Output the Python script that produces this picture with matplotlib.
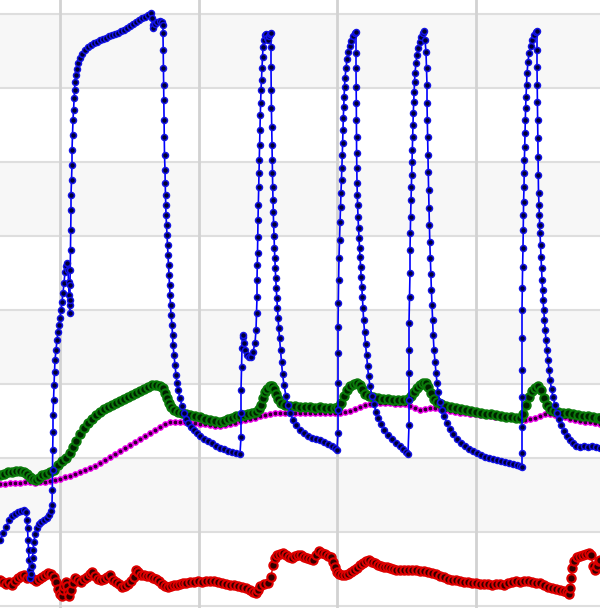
import matplotlib
matplotlib.use("Agg")
import matplotlib.pyplot as plt

# sample index (t) and signal level (v) for each trace
blue_t = [0, 3, 6, 9, 12, 15, 18, 21, 24, 26, 27, 27.5, 28, 28.5, 29, 29.5, 30, 31, 32, 32.5,
          33, 34, 35, 37, 39, 41, 44, 47, 49, 51, 52, 52.3, 52.5, 52.7, 53, 53, 53.5, 54, 54.5, 55,
          56, 57, 58, 59, 60, 61, 62, 63, 64, 65, 66, 67, 68, 68.5, 69, 69.5, 70, 70, 70, 70.2,
          70.5, 70.8, 71, 71, 71.5, 72, 72, 72.5, 73, 73.5, 74, 74.5, 75, 76, 77, 78, 80, 82, 85, 88,
          91, 94, 97, 100, 103, 106, 109, 112, 115, 118, 121, 124, 127, 130, 133, 136, 139, 142, 145, 148,
          151, 152, 152.5, 153, 155, 157, 160, 162, 163, 163, 163.2, 163.4, 163.6, 163.8, 164, 164.2, 164.5, 165,
          165.2, 165.5, 165.8, 166, 166.5, 167, 167.5, 168, 168.5, 169, 169.5, 170, 170.5, 171, 172, 172.5, 173, 174,
          175, 176, 177, 178, 180, 182, 184, 186, 188, 191, 194, 197, 200, 204, 208, 212, 216, 220, 224, 228,
          232, 236, 240, 241, 241, 241, 241.5, 242, 242.5, 243, 244, 245, 247, 249, 251, 253, 255, 256, 256.5, 257,
          257, 257.3, 257.5, 257.7, 258, 258.3, 258.6, 259, 259.3, 259.6, 260, 260.3, 260.6, 261, 261.5, 262, 262.5, 263,
          264, 265, 266, 267, 268, 269, 270, 271, 271, 271, 271.2, 271.4, 271.7, 272, 272.2, 272.4, 272.7, 273,
          273.3, 273.6, 274, 274.4, 274.8, 275.2, 275.7, 276.2, 276.8, 277.4, 278, 278.7, 279.5, 280.5, 281.5, 282.5, 284, 286,
          288, 290, 293, 296, 300, 304, 308, 312, 316, 320, 324, 328, 332, 335, 337, 338, 338, 338, 338, 338,
          338.3, 338.6, 339, 339.5, 340, 340.5, 341, 341.5, 342, 342.3, 342.6, 343, 343.3, 343.7, 344, 344.5, 345, 346, 347, 348,
          349.5, 351, 353, 355, 356, 356, 356, 356.2, 356.3, 356.4, 356.5, 356.6, 356.8, 357, 357.3, 357.6, 358, 358.5, 359, 359.5,
          360, 360.6, 361.2, 361.8, 362.4, 363, 363.6, 364.5, 365.5, 366.5, 367.5, 368.5, 370, 372, 374, 376, 378, 381, 384, 388,
          392, 396, 400, 403, 406, 408, 409, 409, 409, 409, 409, 409.5, 410, 410, 410.3, 410.6, 411, 411.3, 411.6, 412,
          412.3, 412.6, 413, 413.3, 413.7, 414, 414.5, 415, 416, 417, 418, 419.5, 421, 423, 424, 425, 426, 426.5, 427, 427,
          427.3, 427.6, 428, 428.3, 428.6, 429, 429.4, 429.8, 430.3, 430.8, 431.4, 432, 432.6, 433.2, 434, 435, 436, 437, 438, 440,
          442, 444, 447, 450, 453, 457, 461, 465, 469, 473, 477, 481, 485, 489, 493, 497, 501, 505, 509, 513,
          517, 520, 522, 522, 522, 522, 522, 522, 522, 522.3, 522.6, 523, 523.2, 523.4, 523.6, 524, 524.2, 524.4, 524.7, 525,
          525.3, 525.6, 526, 526.5, 527, 528, 529, 530.5, 532, 534, 536, 537, 537, 537, 537.2, 537.4, 537.6, 537.8, 538, 538.2,
          538.5, 539, 539.3, 539.7, 540, 540.5, 541, 541.5, 542, 542.5, 543, 543.7, 544.4, 545.2, 546, 547, 548, 549, 550, 551.5,
          553, 555, 557, 559, 561, 564, 567, 570, 573, 576, 580, 584, 588, 592, 596, 600]
blue_v = [68, 75, 81, 88, 92, 94, 96, 97, 98, 96, 88, 80, 68, 58, 48, 38, 30, 34, 42, 50,
          58, 66, 74, 80, 84, 86, 88, 90, 93, 97, 103, 118, 138, 158, 176, 193, 208, 223, 236, 248,
          258, 268, 276, 283, 290, 298, 306, 315, 325, 336, 342, 345, 338, 326, 313, 303, 295, 308, 323, 338,
          358, 378, 398, 413, 428, 443, 458, 473, 488, 498, 510, 518, 526, 533, 539, 545, 550, 554, 558, 561,
          563, 565, 566, 568, 569, 570, 572, 573, 574, 575, 577, 578, 580, 582, 584, 586, 588, 590, 591, 593,
          595, 590, 583, 580, 584, 586, 587, 586, 583, 575, 558, 540, 523, 508, 488, 471, 453, 438,
          425, 413, 403, 393, 383, 373, 363, 353, 343, 333, 323, 313, 303, 293, 283, 273, 263, 253,
          243, 233, 225, 218, 210, 202, 195, 189, 185, 181, 178, 175, 172, 169, 167, 165, 162, 160, 159, 157,
          156, 155, 154, 171, 195, 218, 241, 260, 271, 273, 265, 258, 253, 251, 251, 256, 265, 278, 295, 311,
          328, 343, 355, 371, 388, 403, 421, 435, 448, 463, 478, 493, 505, 518, 528, 540, 551, 561,
          568, 573, 574, 570, 568, 572, 574, 575, 561, 541, 518, 500, 481, 463, 448, 435, 421, 408,
          396, 384, 372, 360, 350, 340, 330, 320, 310, 300, 290, 280, 270, 258, 246, 234, 223, 212,
          203, 195, 188, 183, 178, 175, 172, 170, 169, 168, 166, 164, 162, 160, 158, 175, 198, 225, 255, 281,
          305, 328, 350, 368, 386, 401, 415, 428, 440, 453, 465, 478, 490, 501, 511, 521, 530, 540, 549, 556,
          562, 567, 572, 575, 576, 555, 540, 521, 505, 488, 471, 455, 440, 425, 413, 403, 391, 380, 370, 360,
          351, 341, 331, 321, 311, 300, 288, 276, 264, 253, 242, 232, 222, 212, 204, 196, 190, 184, 178, 173,
          169, 165, 162, 159, 156, 154, 183, 208, 235, 258, 285, 311, 335, 358, 375, 391, 408, 421, 433, 446,
          458, 471, 483, 495, 506, 516, 526, 535, 545, 553, 560, 566, 571, 575, 577, 568, 556, 540, 523, 505,
          488, 471, 453, 436, 418, 400, 383, 366, 350, 334, 318, 303, 288, 273, 258, 246, 235, 225, 216, 206,
          198, 192, 185, 179, 174, 169, 165, 162, 159, 157, 155, 153, 151, 150, 149, 148, 147, 146, 145, 144,
          143, 142, 141, 155, 181, 211, 238, 270, 298, 320, 341, 360, 378, 393, 406, 421, 435, 448, 461, 475,
          488, 500, 511, 523, 535, 546, 555, 562, 568, 573, 576, 577, 558, 541, 523, 506, 488, 470, 451, 433,
          415, 403, 393, 383, 375, 363, 351, 340, 328, 318, 308, 298, 288, 278, 268, 258, 248, 238, 228, 219,
          211, 203, 195, 189, 183, 177, 172, 168, 165, 162, 161, 162, 161, 162, 161, 160]

green_t = [0, 4, 8, 12, 16, 20, 24, 27, 30, 33, 36, 39, 42, 46, 50, 54, 58, 62, 66, 70,
           73, 76, 80, 84, 88, 92, 96, 100, 104, 108, 112, 116, 120, 124, 128, 132, 136, 140, 144, 148,
           152, 156, 160, 163, 165, 167, 169, 171, 174, 178, 182, 186, 190, 195, 200, 205, 210, 215, 220, 224,
           228, 232, 236, 240, 244, 248, 252, 256, 259, 261, 263, 265, 267, 270, 272, 274, 276, 278, 281, 285,
           290, 295, 300, 305, 310, 315, 320, 325, 330, 335, 338, 341, 344, 347, 350, 354, 357, 360, 362, 365,
           369, 373, 378, 383, 388, 393, 398, 403, 408, 411, 414, 417, 420, 423, 426, 428, 431, 434, 437, 441,
           446, 451, 456, 461, 466, 471, 476, 481, 486, 491, 496, 501, 506, 511, 516, 520, 523, 526, 529, 532,
           535, 538, 541, 544, 547, 550, 554, 558, 563, 568, 573, 578, 583, 588, 593, 598, 600]
green_v = [133, 134, 136, 136, 137, 137, 136, 134, 131, 129, 128, 130, 133, 134, 136, 138, 143, 147, 150, 155,
           161, 167, 174, 180, 185, 189, 193, 196, 199, 201, 203, 205, 207, 209, 211, 213, 215, 217, 219, 221,
           223, 223, 222, 220, 215, 210, 205, 201, 198, 196, 195, 194, 193, 192, 191, 189, 188, 187, 186, 187,
           189, 190, 192, 192, 193, 194, 195, 196, 199, 203, 210, 216, 219, 222, 222, 219, 214, 209, 205, 203,
           202, 202, 201, 201, 201, 200, 201, 200, 200, 200, 201, 205, 212, 218, 222, 224, 225, 223, 219, 214,
           212, 211, 210, 209, 209, 208, 208, 208, 209, 212, 216, 220, 223, 225, 225, 221, 215, 209, 206, 204,
           202, 201, 200, 199, 198, 197, 196, 195, 194, 194, 193, 192, 191, 191, 190, 190, 194, 203, 211, 217,
           220, 222, 218, 210, 203, 199, 197, 196, 195, 195, 194, 193, 192, 192, 191, 190, 190]

magenta_t = [0, 5, 10, 15, 20, 25, 30, 35, 40, 45, 50, 55, 60, 65, 70, 75, 80, 85, 90, 95,
             100, 105, 110, 115, 120, 125, 130, 135, 140, 145, 150, 155, 160, 165, 170, 175, 180, 185, 190, 195,
             200, 205, 210, 215, 220, 225, 230, 235, 240, 245, 250, 255, 260, 265, 270, 275, 280, 285, 290, 295,
             300, 305, 310, 315, 320, 325, 330, 335, 340, 345, 350, 355, 360, 365, 370, 375, 380, 385, 390, 395,
             400, 405, 410, 415, 420, 425, 430, 435, 440, 445, 450, 455, 460, 465, 470, 475, 480, 485, 490, 495,
             500, 505, 510, 515, 520, 525, 530, 535, 540, 545, 550, 555, 560, 565, 570, 575, 580, 585, 590, 595,
             600]
magenta_v = [124, 124, 125, 125, 125, 126, 126, 125, 126, 126, 127, 128, 129, 131, 132, 134, 136, 138, 140, 142,
             145, 148, 151, 154, 157, 160, 163, 166, 169, 172, 175, 178, 181, 184, 186, 186, 186, 186, 185, 185,
             184, 184, 183, 182, 182, 183, 184, 185, 187, 188, 189, 190, 192, 193, 194, 195, 195, 195, 195, 195,
             195, 195, 195, 195, 195, 195, 195, 195, 195, 196, 197, 199, 201, 203, 204, 205, 205, 205, 205, 204,
             204, 204, 202, 200, 198, 199, 200, 200, 199, 198, 197, 196, 195, 195, 194, 194, 193, 193, 192, 191,
             191, 190, 190, 189, 189, 188, 189, 190, 192, 194, 194, 193, 192, 191, 189, 188, 187, 186, 186, 185,
             184]

red_t = [0, 3, 6, 9, 12, 15, 18, 21, 24, 27, 30, 33, 36, 39, 42, 45, 48, 51, 54, 56,
         58, 60, 62, 63, 64, 66, 67, 68, 69, 71, 73, 75, 78, 81, 84, 87, 90, 92, 95, 98,
         101, 104, 107, 110, 113, 116, 119, 122, 125, 128, 131, 134, 136, 138, 141, 144, 147, 150, 153, 156,
         159, 162, 165, 168, 171, 174, 177, 180, 183, 186, 190, 194, 198, 202, 206, 210, 214, 218, 222, 226,
         230, 234, 238, 242, 246, 250, 253, 256, 258, 260, 264, 268, 271, 273, 275, 277, 280, 283, 286, 289,
         292, 295, 298, 301, 304, 307, 310, 313, 316, 319, 322, 325, 328, 331, 333, 335, 337, 339, 342, 345,
         348, 351, 354, 357, 360, 363, 366, 369, 372, 375, 378, 381, 384, 387, 390, 393, 396, 400, 404, 408,
         412, 416, 420, 424, 428, 432, 436, 440, 444, 448, 452, 456, 460, 464, 468, 472, 476, 480, 484, 488,
         492, 496, 500, 504, 508, 512, 516, 520, 524, 528, 532, 536, 540, 544, 548, 552, 556, 560, 564, 567,
         569, 570, 571, 572, 574, 577, 580, 583, 586, 589, 591, 593, 595, 597, 599, 600]
red_v = [28, 26, 24, 26, 23, 27, 30, 32, 33, 30, 31, 29, 27, 29, 31, 33, 35, 34, 31, 26,
         19, 14, 12, 18, 22, 26, 22, 16, 12, 18, 25, 30, 28, 26, 29, 31, 34, 36, 32, 29,
         28, 29, 31, 33, 28, 26, 24, 21, 22, 24, 27, 31, 38, 36, 33, 33, 32, 32, 30, 29,
         27, 24, 22, 21, 22, 23, 23, 24, 25, 25, 26, 26, 27, 26, 27, 27, 27, 26, 25, 24,
         23, 23, 22, 21, 20, 18, 16, 15, 18, 22, 24, 25, 31, 43, 50, 53, 54, 55, 53, 51,
         50, 52, 53, 53, 51, 50, 49, 48, 53, 57, 55, 54, 52, 51, 46, 41, 36, 34, 33, 33,
         34, 36, 38, 40, 43, 45, 47, 48, 46, 45, 43, 42, 41, 41, 40, 39, 38, 38, 38, 38,
         38, 38, 37, 37, 36, 35, 34, 32, 31, 29, 28, 28, 27, 26, 26, 25, 25, 24, 24, 24,
         23, 24, 24, 23, 25, 26, 27, 26, 27, 27, 26, 25, 25, 23, 21, 20, 19, 18, 17, 16,
         14, 20, 30, 40, 47, 51, 52, 53, 54, 55, 53, 42, 38, 42, 47, 48]

fig = plt.figure(figsize=(6, 6.08), dpi=100)
ax = fig.add_axes([0, 0, 1, 1])
ax.set_xlim(0, 600)
ax.set_ylim(0, 608)
ax.set_axis_off()

# alternating bands + grid
rows = [2 + 74 * k for k in range(9)]
for k in (1, 3, 5, 7):
    ax.axhspan(rows[k], rows[k + 1], color='#f7f7f7', zorder=0, lw=0)
for r in rows:
    ax.axhline(r, color='#dedede', lw=1.5, zorder=1)
for c in [60, 198.5, 337, 475.5]:
    ax.axvline(c, color='#d2d2d2', lw=2, zorder=1)

ax.plot(red_t, red_v, '-o', color='#cc0000', lw=1, ms=6,
        mfc='#330000', mec='#dd0000', mew=1.5, zorder=3)
ax.plot(magenta_t, magenta_v, '-o', color='#ee00ee', lw=1, ms=3.8,
        mfc='#330033', mec='#ee00ee', mew=1.0, zorder=4)
ax.plot(green_t, green_v, '-o', color='#006400', lw=1, ms=6,
        mfc='#002200', mec='#0a7a0a', mew=1.5, zorder=5)
ax.plot(blue_t, blue_v, '-o', color='#0000ff', lw=1.2, ms=4.3,
        mfc='#000033', mec='#1414e6', mew=1.1, zorder=6)

fig.savefig('out.png', dpi=100)
